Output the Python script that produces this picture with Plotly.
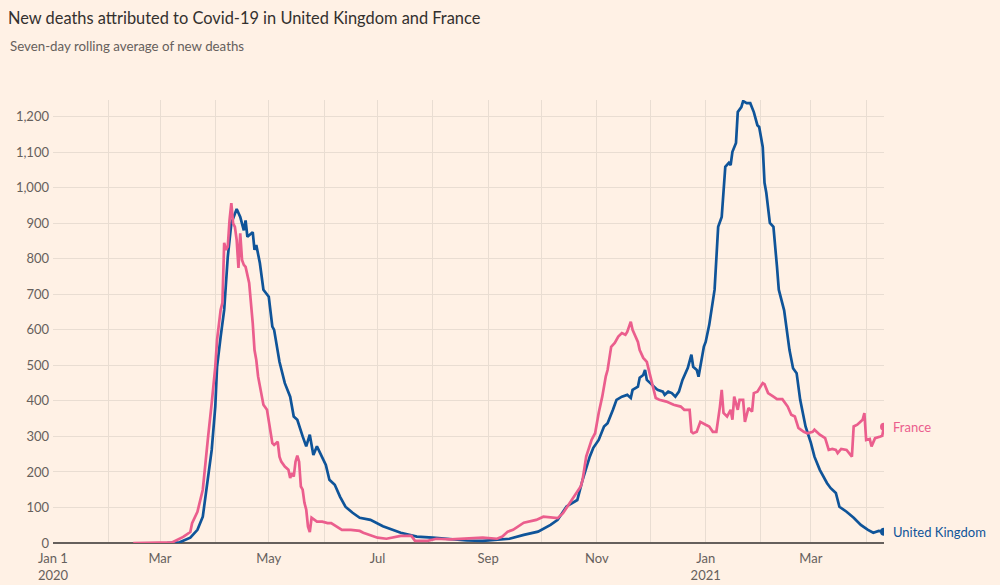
import plotly.graph_objects as go

# ---------------- data ----------------
uk_dates = [
    "2020-03-05", "2020-03-12", "2020-03-18", "2020-03-22", "2020-03-25", "2020-03-26",
    "2020-03-28", "2020-03-30", "2020-04-01", "2020-04-02", "2020-04-04", "2020-04-06",
    "2020-04-08", "2020-04-10", "2020-04-13", "2020-04-15", "2020-04-17", "2020-04-18",
    "2020-04-19", "2020-04-22", "2020-04-23", "2020-04-24", "2020-04-26", "2020-04-28",
    "2020-05-01", "2020-05-03", "2020-05-04", "2020-05-07", "2020-05-10", "2020-05-13",
    "2020-05-15", "2020-05-17", "2020-05-20", "2020-05-22", "2020-05-24", "2020-05-26",
    "2020-05-28", "2020-05-31", "2020-06-02", "2020-06-04", "2020-06-07", "2020-06-10",
    "2020-06-13", "2020-06-17", "2020-06-21", "2020-06-27", "2020-07-04", "2020-07-14",
    "2020-07-23", "2020-08-01", "2020-08-11", "2020-08-20", "2020-08-29", "2020-09-08",
    "2020-09-13", "2020-09-21", "2020-09-29", "2020-10-06", "2020-10-10", "2020-10-15",
    "2020-10-21", "2020-10-24", "2020-10-28", "2020-10-30", "2020-11-02", "2020-11-05",
    "2020-11-07", "2020-11-10", "2020-11-12", "2020-11-15", "2020-11-18", "2020-11-20",
    "2020-11-21", "2020-11-24", "2020-11-25", "2020-11-27", "2020-11-28", "2020-11-29",
    "2020-12-02", "2020-12-05", "2020-12-08", "2020-12-09", "2020-12-11", "2020-12-13",
    "2020-12-15", "2020-12-17", "2020-12-19", "2020-12-22", "2020-12-24", "2020-12-25",
    "2020-12-27", "2020-12-28", "2020-12-31", "2021-01-01", "2021-01-03", "2021-01-05",
    "2021-01-06", "2021-01-08", "2021-01-10", "2021-01-12", "2021-01-14", "2021-01-15",
    "2021-01-16", "2021-01-18", "2021-01-19", "2021-01-21", "2021-01-22", "2021-01-24",
    "2021-01-26", "2021-01-28", "2021-01-30", "2021-01-31", "2021-02-02", "2021-02-03",
    "2021-02-04", "2021-02-06", "2021-02-08", "2021-02-10", "2021-02-11", "2021-02-14",
    "2021-02-17", "2021-02-19", "2021-02-21", "2021-02-23", "2021-02-26", "2021-03-01",
    "2021-03-03", "2021-03-06", "2021-03-10", "2021-03-12", "2021-03-15", "2021-03-17",
    "2021-03-21", "2021-03-25", "2021-03-29", "2021-04-02", "2021-04-05", "2021-04-08",
    "2021-04-11",
]
uk_deaths = [
    0, 2, 15, 37, 74, 113,
    178, 262, 384, 496, 580, 656,
    805, 900, 940, 918, 880, 908,
    862, 875, 825, 839, 788, 713,
    693, 609, 600, 510, 450, 412,
    356, 347, 300, 272, 305, 248,
    272, 243, 220, 178, 164, 130,
    102, 85, 71, 65, 47, 29,
    18, 15, 10, 7, 6, 10,
    12, 23, 32, 51, 65, 103,
    121, 178, 243, 268, 290, 328,
    337, 375, 403, 412, 417, 408,
    431, 440, 465, 473, 487, 459,
    445, 431, 426, 417, 426, 422,
    412, 426, 459, 493, 530, 496,
    487, 468, 553, 566, 614, 675,
    713, 890, 918, 1059, 1070, 1064,
    1101, 1126, 1213, 1227, 1244, 1238,
    1238, 1213, 1176, 1171, 1115, 1014,
    986, 901, 890, 777, 713, 655,
    543, 492, 478, 403, 328, 282,
    243, 206, 169, 155, 141, 102,
    88, 71, 51, 37, 29, 34,
    32,
]

fr_dates = [
    "2020-02-15", "2020-03-01", "2020-03-08", "2020-03-14", "2020-03-18", "2020-03-19",
    "2020-03-22", "2020-03-25", "2020-03-26", "2020-03-28", "2020-03-30", "2020-04-01",
    "2020-04-02", "2020-04-04", "2020-04-05", "2020-04-06", "2020-04-07", "2020-04-08",
    "2020-04-09", "2020-04-10", "2020-04-11", "2020-04-12", "2020-04-13", "2020-04-14",
    "2020-04-15", "2020-04-16", "2020-04-17", "2020-04-18", "2020-04-20", "2020-04-21",
    "2020-04-22", "2020-04-23", "2020-04-24", "2020-04-25", "2020-04-27", "2020-04-28",
    "2020-04-30", "2020-05-02", "2020-05-03", "2020-05-04", "2020-05-06", "2020-05-07",
    "2020-05-08", "2020-05-10", "2020-05-12", "2020-05-13", "2020-05-14", "2020-05-15",
    "2020-05-16", "2020-05-17", "2020-05-18", "2020-05-19", "2020-05-20", "2020-05-21",
    "2020-05-22", "2020-05-23", "2020-05-24", "2020-05-25", "2020-05-28", "2020-05-31",
    "2020-06-03", "2020-06-05", "2020-06-08", "2020-06-11", "2020-06-16", "2020-06-21",
    "2020-06-23", "2020-07-01", "2020-07-06", "2020-07-14", "2020-07-20", "2020-07-22",
    "2020-07-29", "2020-08-03", "2020-08-11", "2020-08-20", "2020-08-29", "2020-09-06",
    "2020-09-09", "2020-09-12", "2020-09-15", "2020-09-21", "2020-09-28", "2020-10-02",
    "2020-10-10", "2020-10-13", "2020-10-17", "2020-10-23", "2020-10-24", "2020-10-26",
    "2020-10-29", "2020-10-31", "2020-11-02", "2020-11-04", "2020-11-06", "2020-11-07",
    "2020-11-09", "2020-11-11", "2020-11-13", "2020-11-15", "2020-11-17", "2020-11-18",
    "2020-11-20", "2020-11-21", "2020-11-24", "2020-11-25", "2020-11-27", "2020-11-29",
    "2020-12-01", "2020-12-02", "2020-12-04", "2020-12-06", "2020-12-10", "2020-12-14",
    "2020-12-18", "2020-12-20", "2020-12-23", "2020-12-24", "2020-12-25", "2020-12-27",
    "2020-12-29", "2021-01-01", "2021-01-03", "2021-01-05", "2021-01-07", "2021-01-09",
    "2021-01-10", "2021-01-11", "2021-01-13", "2021-01-15", "2021-01-16", "2021-01-17",
    "2021-01-19", "2021-01-20", "2021-01-22", "2021-01-23", "2021-01-25", "2021-01-27",
    "2021-01-28", "2021-01-30", "2021-02-02", "2021-02-03", "2021-02-05", "2021-02-08",
    "2021-02-10", "2021-02-13", "2021-02-16", "2021-02-18", "2021-02-20", "2021-02-22",
    "2021-02-25", "2021-02-27", "2021-03-02", "2021-03-03", "2021-03-05", "2021-03-06",
    "2021-03-09", "2021-03-11", "2021-03-13", "2021-03-15", "2021-03-16", "2021-03-18",
    "2021-03-21", "2021-03-23", "2021-03-24", "2021-03-25", "2021-03-27", "2021-03-30",
    "2021-03-31", "2021-04-01", "2021-04-03", "2021-04-04", "2021-04-06", "2021-04-09",
    "2021-04-10", "2021-04-11",
]
fr_deaths = [
    0, 0, 2, 17, 31, 56,
    88, 150, 206, 300, 394, 496,
    572, 656, 676, 845, 825, 834,
    909, 957, 900, 890, 853, 774,
    872, 797, 783, 777, 732, 684,
    619, 543, 515, 469, 422, 389,
    375, 319, 281, 276, 285, 243,
    229, 215, 206, 183, 197, 187,
    229, 246, 229, 159, 150, 113,
    94, 46, 31, 71, 60, 60,
    56, 56, 46, 37, 37, 34,
    29, 15, 12, 20, 20, 6,
    6, 12, 10, 12, 15, 12,
    18, 32, 37, 57, 65, 74,
    70, 84, 113, 160, 178, 243,
    290, 309, 366, 412, 469, 487,
    552, 563, 581, 591, 586, 594,
    623, 600, 566, 543, 521, 510,
    469, 450, 408, 403, 398, 389,
    384, 375, 375, 313, 309, 313,
    341, 333, 328, 313, 313, 384,
    431, 366, 356, 375, 347, 412,
    375, 403, 403, 341, 380, 370,
    422, 426, 450, 447, 422, 412,
    405, 405, 384, 361, 356, 324,
    313, 309, 313, 319, 309, 305,
    295, 262, 265, 262, 253, 265,
    262, 248, 243, 328, 333, 347,
    366, 290, 293, 272, 295, 300,
    302, 327,
]

month_ticks = [
    "2020-01-01", "2020-02-01", "2020-03-01", "2020-04-01", "2020-05-01", "2020-06-01",
    "2020-07-01", "2020-08-01", "2020-09-01", "2020-10-01", "2020-11-01", "2020-12-01",
    "2021-01-01", "2021-02-01", "2021-03-01", "2021-04-01",
]
month_labels = [
    "Jan 1<br>2020", "", "Mar", "", "May", "", "Jul", "", "Sep", "", "Nov", "",
    "Jan<br>2021", "", "Mar", "",
]
y_ticks = [0, 100, 200, 300, 400, 500, 600, 700, 800, 900, 1000, 1100, 1200]

series_names = ["United Kingdom", "France"]
# --------------------------------------

BG = "#FFF1E5"
UK_COL = "#0F5499"
FR_COL = "#EB5E8D"
GRID = "#E9DDD2"
TXT = "#66605C"
FONT = "Lato, 'Open Sans', sans-serif"

fig = go.Figure()
fig.add_trace(go.Scatter(x=uk_dates, y=uk_deaths, mode="lines", name=series_names[0],
                         line=dict(color=UK_COL, width=2.7), hoverinfo="x+y"))
fig.add_trace(go.Scatter(x=fr_dates, y=fr_deaths, mode="lines", name=series_names[1],
                         line=dict(color=FR_COL, width=2.7), hoverinfo="x+y"))
# end markers
fig.add_trace(go.Scatter(x=[uk_dates[-1]], y=[uk_deaths[-1]], mode="markers",
                         marker=dict(color=UK_COL, size=8), hoverinfo="skip"))
fig.add_trace(go.Scatter(x=[fr_dates[-1]], y=[fr_deaths[-1]], mode="markers",
                         marker=dict(color=FR_COL, size=8), hoverinfo="skip"))

fig.add_annotation(x=uk_dates[-1], y=uk_deaths[-1], text=series_names[0], showarrow=False,
                   xanchor="left", yanchor="middle", xshift=7,
                   font=dict(family=FONT, size=13, color=UK_COL))
fig.add_annotation(x=fr_dates[-1], y=fr_deaths[-1], text=series_names[1], showarrow=False,
                   xanchor="left", yanchor="middle", xshift=7,
                   font=dict(family=FONT, size=13, color=FR_COL))

fig.add_annotation(xref="paper", yref="paper", x=-0.054, y=1.122,
                   text="Seven-day rolling average of new deaths", showarrow=False,
                   xanchor="left", yanchor="middle",
                   font=dict(family=FONT, size=13.3, color=TXT))

fig.update_layout(
    width=1000, height=585,
    paper_bgcolor=BG, plot_bgcolor=BG,
    showlegend=False,
    margin=dict(l=53, r=116, t=100, b=42, autoexpand=False),
    title=dict(text="New deaths attributed to Covid-19 in United Kingdom and France",
               xref="container", yref="container", x=0.008, y=1 - 18 / 585,
               xanchor="left", yanchor="middle",
               font=dict(family=FONT, size=16.4, color="#33302E")),
    font=dict(family=FONT, size=13, color=TXT),
)
fig.update_xaxes(
    type="date", range=["2020-01-01", "2021-04-11"],
    tickvals=month_ticks, ticktext=month_labels, automargin=False,
    ticklabelstandoff=6,
    showgrid=True, gridcolor=GRID, gridwidth=1,
    showline=False, zeroline=False, ticks="",
    tickfont=dict(family=FONT, size=13, color=TXT),
)
fig.update_yaxes(
    range=[0, 1247], tickvals=y_ticks, tickformat=",", automargin=False,
    ticklabelstandoff=3,
    showgrid=True, gridcolor=GRID, gridwidth=1,
    zeroline=True, zerolinecolor="#66605C", zerolinewidth=1.5,
    showline=False, ticks="",
    tickfont=dict(family=FONT, size=13, color=TXT),
)

fig.write_html("out.html")
